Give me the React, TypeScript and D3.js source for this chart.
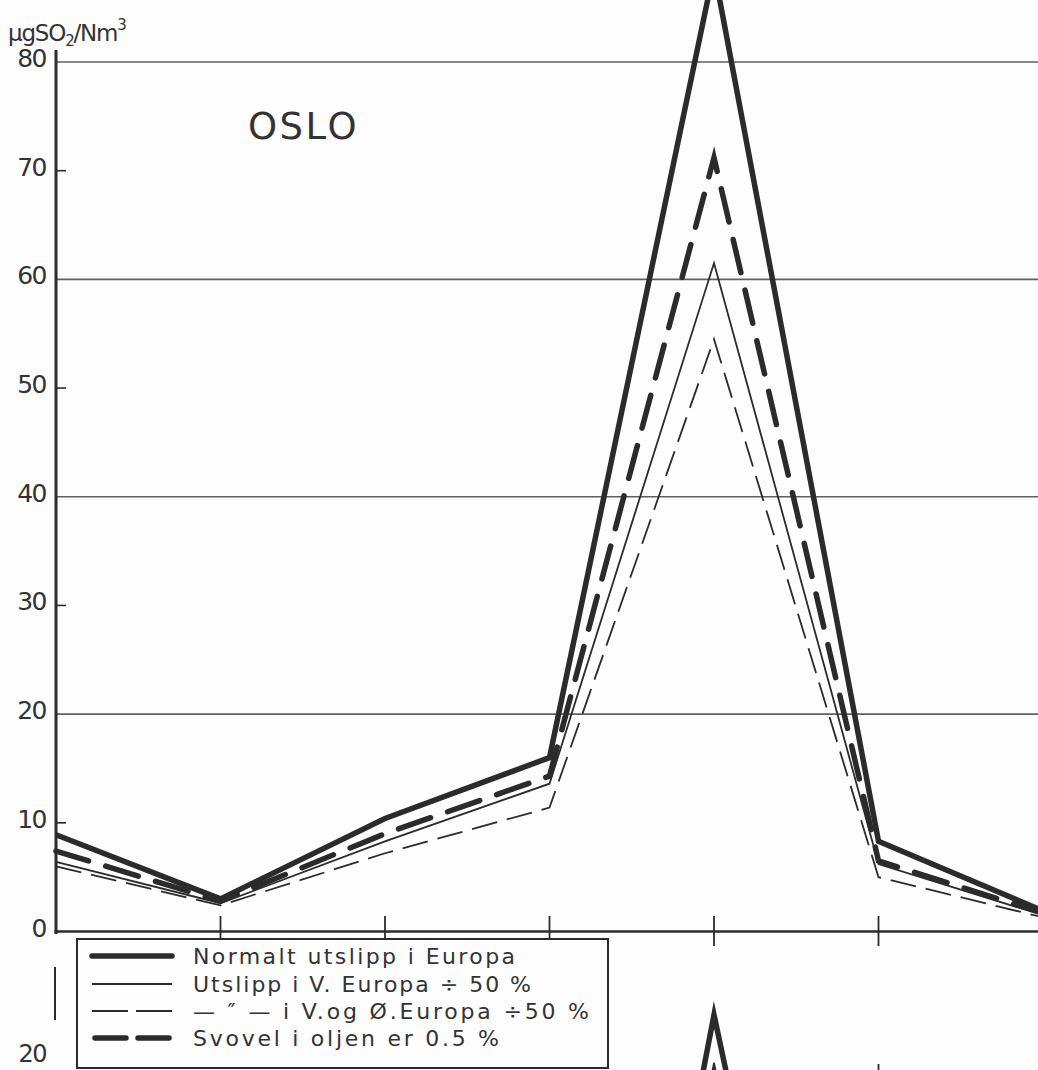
import React from "react";
import * as d3 from "d3";

// Sampling positions along the horizontal axis (no labels in the figure)
const positions = [0, 1, 2, 3, 4, 5, 6];

// µg SO2 / Nm³ at Oslo for each emission scenario
const normalEmission = [8.9, 3.0, 10.4, 16.0, 88.5, 8.3, 1.9];
const westHalved = [6.4, 2.6, 8.3, 13.6, 61.5, 6.2, 1.5];
const westEastHalved = [6.0, 2.4, 7.2, 11.4, 54.5, 5.0, 1.3];
const lowSulphurOil = [7.4, 2.8, 9.0, 14.3, 71.2, 6.5, 1.7];

// Next panel (only its top edge shows)
const lowerPositions = [3, 4, 5];
const lowerNormal = [1.5, 21.2, 3.5];
const lowerWest = [1.0, 20.1, 2.5];

const gridValues = [20, 40, 60, 80];
const minorTicks = [10, 30, 50, 70];
const yTickLabels = [0, 10, 20, 30, 40, 50, 60, 70, 80];

const legendLabels = [
  "Normalt utslipp i Europa",
  "Utslipp i V. Europa  ÷ 50 %",
  "— ″ — i V.og Ø.Europa ÷50 %",
  "Svovel i oljen er 0.5 %",
];

const INK = "#2b2b2b";
const FONT = "'DejaVu Sans', sans-serif";

type Style = { width: number; dash?: string; cap: "butt" | "round" };
const styles: Style[] = [
  { width: 5.5, cap: "butt" },
  { width: 1.8, cap: "butt" },
  { width: 1.8, dash: "26 10", cap: "butt" },
  { width: 5.5, dash: "34 18", cap: "round" },
];

export default function App() {
  const W = 1038;
  const H = 1070;
  const x = d3.scaleLinear().domain([0, 6]).range([56, 1043]);
  const y = d3.scaleLinear().domain([0, 80]).range([931.5, 62]);
  const yLow = d3.scaleLinear().domain([0, 20]).range([1067 + 870, 1067]);

  const series = [normalEmission, westHalved, westEastHalved, lowSulphurOil];
  const line = d3
    .line<number>()
    .x((_, i) => x(positions[i]))
    .y((d) => y(d));
  const lowLine = d3
    .line<number>()
    .x((_, i) => x(lowerPositions[i]))
    .y((d) => yLow(d));

  const legendRowY = [956, 984, 1011, 1038];
  const legendTextLen = [322, 338, 396, 306];

  return (
    <svg
      width={W}
      height={H}
      style={{ position: "absolute", left: 0, top: 0, background: "#fdfdfd" }}
      fontFamily={FONT}
    >
      <defs>
        <clipPath id="plotClip">
          <rect x={0} y={0} width={W} height={H} />
        </clipPath>
      </defs>

      {/* horizontal grid lines */}
      {gridValues.map((v) => (
        <line key={v} x1={56} x2={W} y1={y(v)} y2={y(v)} stroke="#606060" strokeWidth={1.6} />
      ))}

      {/* minor y ticks */}
      {minorTicks.map((v) => (
        <line key={v} x1={56} x2={66} y1={y(v)} y2={y(v)} stroke={INK} strokeWidth={1.6} />
      ))}

      {/* x ticks */}
      {positions.slice(1).map((p) => (
        <line key={p} x1={x(p)} x2={x(p)} y1={916} y2={946} stroke={INK} strokeWidth={1.8} />
      ))}

      {/* axes */}
      <line x1={56} x2={56} y1={50} y2={934} stroke={INK} strokeWidth={3} />
      <line x1={54.5} x2={W} y1={y(0)} y2={y(0)} stroke={INK} strokeWidth={2.6} />

      {/* y tick labels */}
      {yTickLabels.map((v) => (
        <text
          key={v}
          x={46}
          y={y(v) + 5}
          textAnchor="end"
          fontSize={25}
          fill="#333"
          letterSpacing={-1.5}
        >
          {v}
        </text>
      ))}

      {/* unit */}
      <text x={8} y={41} fontSize={23} fill="#333" letterSpacing={-1.2}>
        µgSO
        <tspan fontSize={15} dy={5}>2</tspan>
        <tspan dy={-5}>/Nm</tspan>
        <tspan fontSize={15} dy={-11}>3</tspan>
      </text>

      <text x={248} y={139} fontSize={37} fill="#333" letterSpacing={2.5}>
        OSLO
      </text>

      {/* scenario lines */}
      <g clipPath="url(#plotClip)">
        {series.map((s, i) => (
          <path
            key={i}
            d={line(s) ?? ""}
            fill="none"
            stroke={INK}
            strokeWidth={styles[i].width}
            strokeDasharray={styles[i].dash}
            strokeLinecap={styles[i].cap}
            strokeLinejoin="miter"
            strokeMiterlimit={12}
          />
        ))}
      </g>

      {/* top of the next panel */}
      <line x1={55} x2={55} y1={967} y2={1020} stroke={INK} strokeWidth={2} />
      <text x={46} y={1062} textAnchor="end" fontSize={24} fill="#333" letterSpacing={-1.5}>
        20
      </text>
      <path d={lowLine(lowerNormal) ?? ""} fill="none" stroke={INK} strokeWidth={5.5} strokeLinejoin="miter" strokeMiterlimit={12} />
      <path d={lowLine(lowerWest) ?? ""} fill="none" stroke={INK} strokeWidth={1.6} />
      {[4, 5].map((p) => (
        <line key={p} x1={x(p)} x2={x(p)} y1={1064} y2={H} stroke={INK} strokeWidth={1.8} />
      ))}

      {/* legend */}
      <rect x={77} y={939} width={531} height={129} fill="#fdfdfd" stroke={INK} strokeWidth={2} />
      {legendLabels.map((label, i) => (
        <g key={i}>
          <line
            x1={i === 3 ? 95 : 92}
            x2={i === 3 ? 169 : 172}
            y1={legendRowY[i]}
            y2={legendRowY[i]}
            stroke={INK}
            strokeWidth={styles[i].width}
            strokeDasharray={i === 2 ? "36 8" : i === 3 ? "31 12" : undefined}
            strokeLinecap={i === 0 || i === 3 ? "round" : "butt"}
          />
          <text
            x={193}
            y={legendRowY[i] + 8}
            fontSize={22}
            fill="#333"
            textLength={legendTextLen[i]}
            lengthAdjust="spacing"
          >
            {label}
          </text>
        </g>
      ))}
    </svg>
  );
}
